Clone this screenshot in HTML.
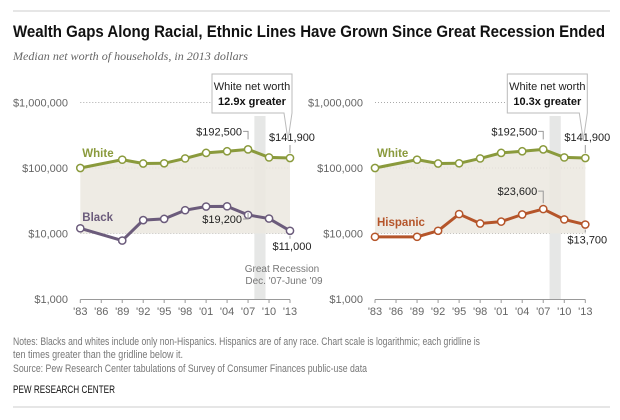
<!DOCTYPE html>
<html><head><meta charset="utf-8"><style>
body{margin:0;background:#fff;width:620px;height:420px;overflow:hidden}
svg{display:block;font-family:"Liberation Sans",sans-serif}
</style></head><body>
<svg id="c" width="620" height="420" viewBox="0 0 620 420">
<line x1="13" y1="11" x2="610" y2="11" stroke="#ccc" stroke-width="1"/>
<text x="13" y="37" font-size="17" font-weight="bold" fill="#111" textLength="592" lengthAdjust="spacingAndGlyphs">Wealth Gaps Along Racial, Ethnic Lines Have Grown Since Great Recession Ended</text>
<text x="13" y="60" font-size="12" font-style="italic" fill="#666" font-family="Liberation Serif, serif" textLength="235" lengthAdjust="spacingAndGlyphs">Median net worth of households, in 2013 dollars</text>
<g id="panels"></g>
<text x="13" y="345" font-size="11" fill="#777" textLength="467" lengthAdjust="spacingAndGlyphs">Notes: Blacks and whites include only non-Hispanics. Hispanics are of any race. Chart scale is logarithmic; each gridline is</text>
<text x="13" y="358" font-size="11" fill="#777" textLength="170" lengthAdjust="spacingAndGlyphs">ten times greater than the gridline below it.</text>
<text x="13" y="372" font-size="11" fill="#777" textLength="354" lengthAdjust="spacingAndGlyphs">Source: Pew Research Center tabulations of Survey of Consumer Finances public-use data</text>
<text x="13" y="393" font-size="11" fill="#111" textLength="102" lengthAdjust="spacingAndGlyphs">PEW RESEARCH CENTER</text>
<line x1="13" y1="407" x2="610" y2="407" stroke="#ccc" stroke-width="1"/>
</svg>
<script>
const years = [1983,1989,1992,1995,1998,2001,2004,2007,2010,2013];
const whiteValues = [100000,134000,117000,118000,140000,170000,180000,192500,145000,141900];
const blackValues = [12000,7800,16000,16700,22700,25800,26000,19200,16900,11000];
const hispanicValues = [8900,8900,11000,19800,14200,15200,19500,23600,16400,13700];
const tickYears = [1983,1986,1989,1992,1995,1998,2001,2004,2007,2010,2013];
const yTicks = [1000,10000,100000,1000000];
const yTickLabels = ["$1,000","$10,000","$100,000","$1,000,000"];
const ratioLabels = ["12.9x","10.3x"];

const NS="http://www.w3.org/2000/svg";
const root=document.getElementById('panels');
function mk(tag,attrs,parent,text){const e=document.createElementNS(NS,tag);for(const k in attrs)e.setAttribute(k,attrs[k]);if(text!==undefined)e.textContent=text;(parent||root).appendChild(e);return e;}
const yScale=v=>299-(Math.log10(v)-3)*65.5;
const fmt=v=>'$'+v.toLocaleString('en-US');

function panel(px0,px1,labelRight,other,otherName,color,ratio,otherLabelY){
  const xs=y=>px0+(y-1983)*(px1-px0)/30;
  const g=mk('g',{});
  
  
  yTicks.forEach((t,i)=>{
    const y=yScale(t);
    if(i>0){const l=mk('line',{x1:px0,x2:px1,y1:y,y2:y,stroke:'#aaa','stroke-dasharray':'1,2','stroke-width':1},g);
      }
    const tx=mk('text',{x:labelRight,y:y+4,'font-size':11,fill:'#666','text-anchor':'end'},g,yTickLabels[i]);
    
  });
  const band=mk('rect',{x:xs(2007.9),y:116,width:xs(2009.5)-xs(2007.9),height:299-116,fill:'#e6e7e6'},g);
  
  let d='M'+xs(years[0])+','+yScale(10000);
  years.forEach((yr,i)=>{d+=' L'+xs(yr)+','+yScale(whiteValues[i]);});
  d+=' L'+xs(years[years.length-1])+','+yScale(10000)+'Z';
  const area=mk('path',{d:d,fill:'#ebe8df','fill-opacity':0.85},g);
  
  const ax=mk('line',{x1:px0,x2:px1,y1:299.5,y2:299.5,stroke:'#999'},g);
  
  tickYears.forEach(yr=>{
    const x=xs(yr);
    const tk=mk('line',{x1:x,x2:x,y1:299.5,y2:303,stroke:'#999'},g);
    
    const tl=mk('text',{x:x,y:315,'font-size':11,fill:'#666','text-anchor':'middle'},g,"'"+String(yr).slice(2));
    
  });
  function series(vals,col,name){
    const pts=years.map((yr,i)=>xs(yr)+','+yScale(vals[i])).join(' ');
    const pl=mk('polyline',{points:pts,fill:'none',stroke:col,'stroke-width':3},g);
    
    years.forEach((yr,i)=>{
      const c=mk('circle',{cx:xs(yr),cy:yScale(vals[i]),r:3.6,fill:'#fff',stroke:col,'stroke-width':1.5},g);
      
    });
  }
  series(whiteValues,'#8a9a3c','white');
  series(other,color,otherName.toLowerCase());
  const wl=mk('text',{x:px0+2,y:157,'font-size':11.5,'font-weight':'bold',fill:'#8a9a3c'},g,'White');
  
  const ol=mk('text',{x:px0+2,y:otherLabelY,'font-size':11.5,'font-weight':'bold',fill:color},g,otherName);
  
  const i07=years.indexOf(2007), iL=years.length-1;
  const x07=xs(2007), xL=xs(2013);
  function lab(x,y,txt,anchor,name){const t=mk('text',{x:x,y:y,'font-size':11,fill:'#222','text-anchor':anchor},g,txt);}
  const yw=yScale(whiteValues[i07]);
  lab(x07-6,yw-14,fmt(whiteValues[i07]),'end','white-peak-label');
  mk('path',{d:`M${x07-5},${yw-18} H${x07} V${yw-10}`,fill:'none',stroke:'#999'},g);
  lab(xL+2,yScale(whiteValues[iL])-17,fmt(whiteValues[iL]),'middle','white-last-label');
  mk('line',{x1:xL,x2:xL,y1:yScale(whiteValues[iL])-13,y2:yScale(whiteValues[iL])-5,stroke:'#999'},g);
  const yo=yScale(other[i07]);
  if(otherName==='Black'){
    lab(x07-6,yo+8,fmt(other[i07]),'end','other-2007-label');
    mk('path',{d:`M${x07-5},${yo+4} H${x07} V${yo-2}`,fill:'none',stroke:'#999'},g);
  } else {
    lab(x07-6,yo-14,fmt(other[i07]),'end','other-2007-label');
    mk('path',{d:`M${x07-5},${yo-18} H${x07} V${yo-6}`,fill:'none',stroke:'#999'},g);
  }
  lab(xL+2,yScale(other[iL])+19,fmt(other[iL]),'middle','other-last-label');
  mk('line',{x1:xL,x2:xL,y1:yScale(other[iL])+5,y2:yScale(other[iL])+8,stroke:'#999'},g);
  const bx=xL-78,by=74;
  const cp=mk('path',{d:`M${bx},${by} H${bx+80} V${by+39} H${xL+2} L${xL-2},${by+66} L${xL-6},${by+39} H${bx} Z`,fill:'#fff',stroke:'#bbb'},g);
  
  lab(bx+40,by+16,'White net worth','middle','callout-line1');
  const t2=mk('text',{x:bx+40,y:by+31,'font-size':11,'font-weight':'bold',fill:'#111','text-anchor':'middle'},g,ratio+' greater');
  
  if(otherName==='Black'){
    const r1=mk('text',{x:xL-8,y:272,'font-size':10,fill:'#777','text-anchor':'middle'},g,'Great Recession');
    
    const r2=mk('text',{x:xL-6,y:284,'font-size':10,fill:'#777','text-anchor':'middle'},g,"Dec. '07-June '09");
    
  }
}
panel(80.3,290,68,blackValues,'Black','#6b5b7b',ratioLabels[0],221);
panel(375,585.3,363,hispanicValues,'Hispanic','#b5552a',ratioLabels[1],226);
</script>
</body></html>
